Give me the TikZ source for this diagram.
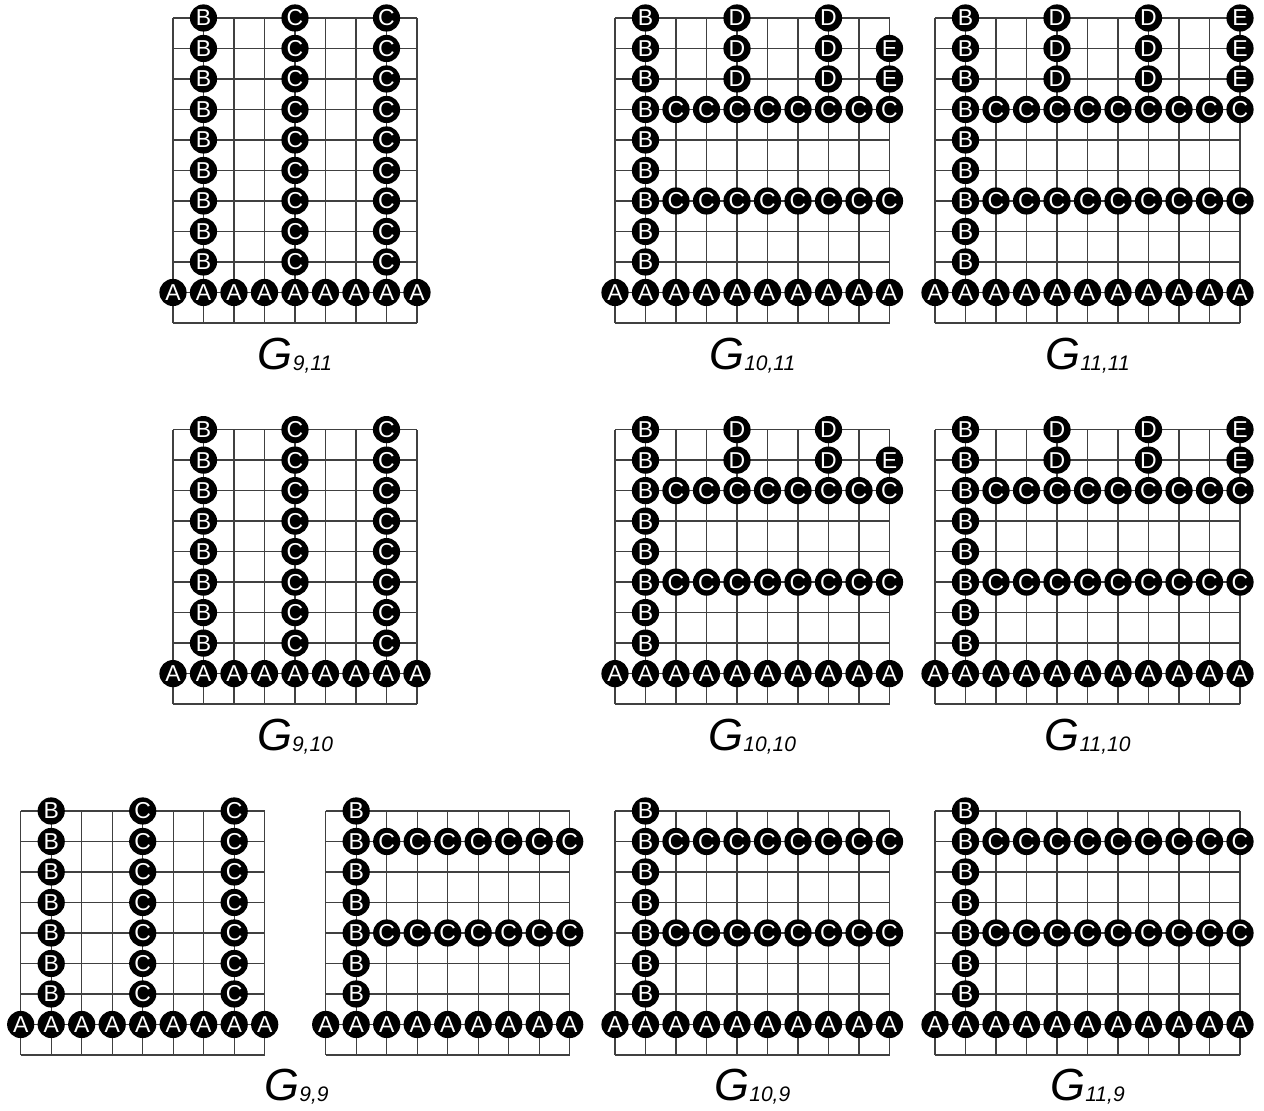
\documentclass[tikz,border=0pt]{standalone}
\usepackage{fontspec}
\setmainfont{Liberation Sans}

% grid of #1+1 columns and #2+1 rows, row 1 full of A, column 1 of B
\newcommand{\basegrid}[2]{%
  \draw[gridline] (0,0) grid (#1,#2);
  \foreach \cx in {0,...,#1} \node[vert] (A\cx) at (\cx,1) {A};
  \foreach \ry in {2,...,#2} \node[vert] (B\ry) at (1,\ry) {B};
}
% C in columns 4 and 7
\newcommand{\colsC}[1]{%
  \foreach \ry in {2,...,#1} {
    \node[vert] (C\ry) at (4,\ry) {C};
    \node[vert] (CC\ry) at (7,\ry) {C};
  }
}
% C in rows 4 and 7
\newcommand{\rowsC}[1]{%
  \foreach \cx in {2,...,#1} {
    \node[vert] (C\cx) at (\cx,4) {C};
    \node[vert] (CC\cx) at (\cx,7) {C};
  }
}
% D in columns 4 and 7, from row 8 up
\newcommand{\colsD}[1]{%
  \foreach \ry in {8,...,#1} {
    \node[vert] (D\ry) at (4,\ry) {D};
    \node[vert] (DD\ry) at (7,\ry) {D};
  }
}
% E in column #1, from row 8 up to #2
\newcommand{\colE}[2]{%
  \foreach \ry in {8,...,#2} \node[vert] (E\ry) at (#1,\ry) {E};
}
\newcommand{\gname}[1]{G\raisebox{-.5pt}{\fontsize{10.5}{12}\selectfont\itshape #1}}

\begin{document}
\begin{tikzpicture}[x=15.25pt,y=15.25pt,
  gridline/.style={black!75,line width=.65pt,step=1},
  vert/.style={circle,fill=black,text=white,minimum size=13.6pt,inner sep=0pt,
    font=\fontsize{11.5}{11.5}\selectfont},
  glabel/.style={anchor=base,font=\fontsize{22.5}{26}\selectfont\itshape}]
  \useasboundingbox (0,0) rectangle (41.443,36.426);

  % first row: G_{m,11}
  \begin{scope}[shift={(5.672,25.836)},name prefix=g911-]
    \basegrid{8}{10}
    \colsC{10}
  \end{scope}
  \begin{scope}[shift={(20.164,25.836)},name prefix=g1011-]
    \basegrid{9}{10}
    \rowsC{9}
    \colsD{10}
    \colE{9}{9}
  \end{scope}
  \begin{scope}[shift={(30.656,25.836)},name prefix=g1111-]
    \basegrid{10}{10}
    \rowsC{10}
    \colsD{10}
    \colE{10}{10}
  \end{scope}
  \node[glabel] (l911) at (9.672,24.31) {\gname{9,11}};
  \node[glabel] (l1011) at (24.664,24.31) {\gname{10,11}};
  \node[glabel] (l1111) at (35.656,24.31) {\gname{11,11}};

  % second row: G_{m,10}
  \begin{scope}[shift={(5.672,13.34)},name prefix=g910-]
    \basegrid{8}{9}
    \colsC{9}
  \end{scope}
  \begin{scope}[shift={(20.164,13.34)},name prefix=g1010-]
    \basegrid{9}{9}
    \rowsC{9}
    \colsD{9}
    \colE{9}{8}
  \end{scope}
  \begin{scope}[shift={(30.656,13.34)},name prefix=g1110-]
    \basegrid{10}{9}
    \rowsC{10}
    \colsD{9}
    \colE{10}{9}
  \end{scope}
  \node[glabel] (l910) at (9.672,11.83) {\gname{9,10}};
  \node[glabel] (l1010) at (24.664,11.83) {\gname{10,10}};
  \node[glabel] (l1110) at (35.656,11.83) {\gname{11,10}};

  % third row: G_{m,9}
  \begin{scope}[shift={(0.679,1.836)},name prefix=g99a-]
    \basegrid{8}{8}
    \colsC{8}
  \end{scope}
  \begin{scope}[shift={(10.679,1.836)},name prefix=g99b-]
    \basegrid{8}{8}
    \rowsC{8}
  \end{scope}
  \begin{scope}[shift={(20.164,1.836)},name prefix=g109-]
    \basegrid{9}{8}
    \rowsC{9}
  \end{scope}
  \begin{scope}[shift={(30.656,1.836)},name prefix=g119-]
    \basegrid{10}{8}
    \rowsC{10}
  \end{scope}
  \node[glabel] (l99) at (9.72,0.34) {\gname{9,9}};
  \node[glabel] (l109) at (24.664,0.34) {\gname{10,9}};
  \node[glabel] (l119) at (35.656,0.34) {\gname{11,9}};
\end{tikzpicture}
\end{document}
